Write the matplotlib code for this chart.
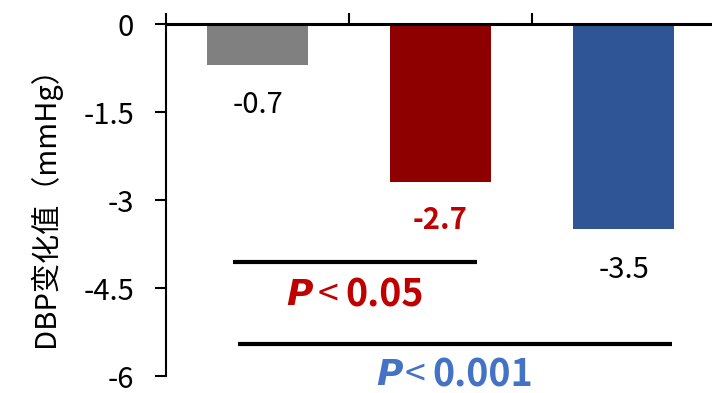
import matplotlib.pyplot as plt

plt.rcParams['font.family'] = ['Noto Sans CJK SC', 'DejaVu Sans']

# data
groups = ['A', 'B', 'C']
dbp_change = [-0.7, -2.7, -3.5]
bar_colors = ['#808080', '#8E0000', '#2F5597']
label_colors = ['black', '#C00000', 'black']
label_weights = ['normal', 'bold', 'normal']
label_y = [-1.38, -3.34, -4.2]
y_ticks = [0, -1.5, -3, -4.5, -6]
y_tick_labels = ['0', '-1.5', '-3', '-4.5', '-6']

fig = plt.figure(figsize=(7.12, 3.93), dpi=100)
ax = fig.add_axes([166 / 712, 17 / 393, 549 / 712, 352 / 393])

x = list(range(len(groups)))
ax.bar(x, dbp_change, width=0.55, color=bar_colors)

for i, v in enumerate(dbp_change):
    ax.text(i, label_y[i], f'{v:.1f}', ha='center', va='center', fontsize=21,
            color=label_colors[i], fontweight=label_weights[i])

ax.set_xlim(-0.5, 2.5)
ax.set_ylim(-6, 0)
ax.set_yticks(y_ticks)
ax.set_yticklabels(y_tick_labels)
ax.tick_params(axis='y', direction='out', length=8, width=1.5, labelsize=21, pad=15)

ax.xaxis.tick_top()
ax.set_xticks([-0.5, 0.5, 1.5, 2.5])
ax.set_xticklabels([])
ax.tick_params(axis='x', direction='out', length=8, width=1.5)

ax.spines['right'].set_visible(False)
ax.spines['bottom'].set_visible(False)
ax.spines['top'].set_linewidth(2.2)
ax.spines['left'].set_linewidth(1.5)

ax.set_ylabel('DBP变化值（mmHg）', fontsize=21, labelpad=16)

# significance lines
ax.plot([-0.134, 1.199], [-4.06, -4.06], color='black', lw=3, clip_on=False,
        solid_capstyle='butt')
ax.plot([-0.107, 2.265], [-5.45, -5.45], color='black', lw=3, clip_on=False,
        solid_capstyle='butt')

# p-value annotations: italic P, thin "<", bold number
sig = [(-4.62, 0.303, 0.385, 0.478, '0.05', '#C00000'),
       (-5.99, 0.795, 0.861, 0.954, '0.001', '#4472C4')]
for y, xp, xl, xn, txt, c in sig:
    ax.text(xp, y, 'P', ha='right', va='center', fontsize=26, fontweight='bold',
            fontstyle='italic', family='DejaVu Sans', color=c, clip_on=False)
    ax.text(xl, y, '<', ha='center', va='center', fontsize=27, color=c, clip_on=False)
    ax.text(xn, y, txt, ha='left', va='center', fontsize=27, fontweight='bold',
            color=c, clip_on=False)

fig.savefig('out.png', dpi=100)
